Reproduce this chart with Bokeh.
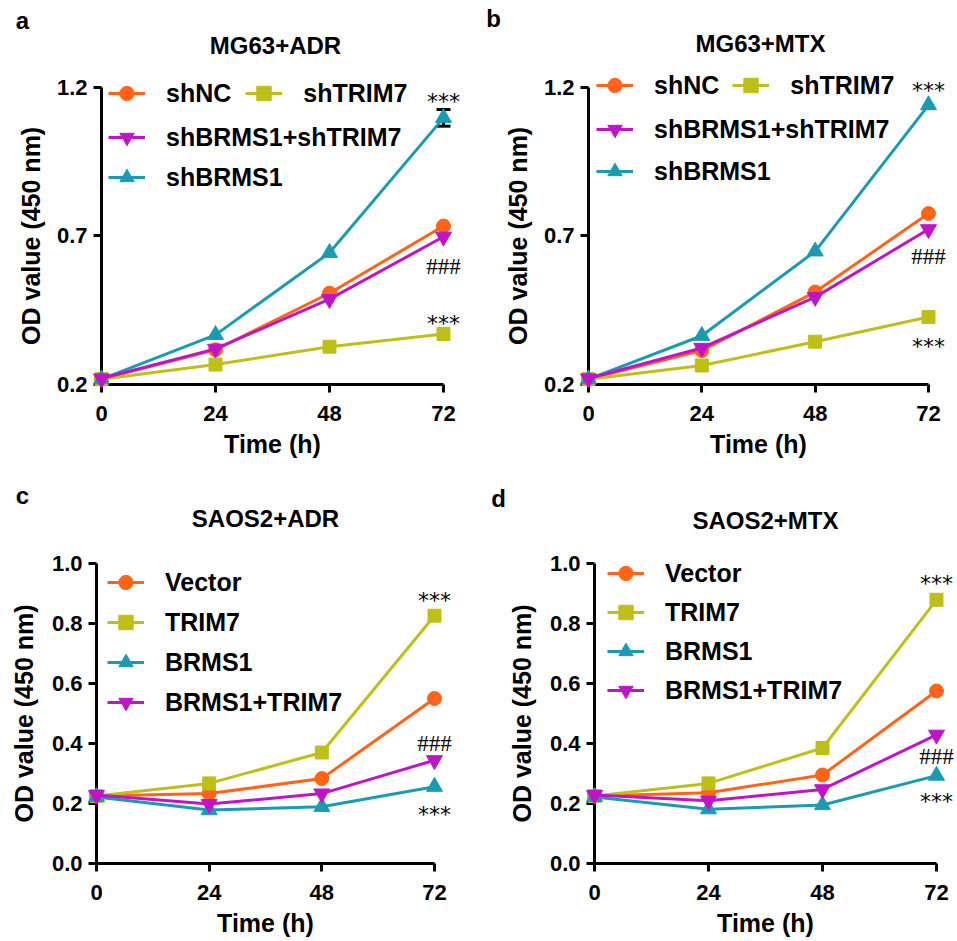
import math
from bokeh.plotting import figure
from bokeh.models import Range1d, FixedTicker, NumeralTickFormatter, Legend, LegendItem
from bokeh.layouts import column, row
from bokeh.core.properties import value
from bokeh.embed import file_html
from bokeh.resources import INLINE

FONT = "Liberation Sans"

time_h = [0, 24, 48, 72]
x_ticks = [0, 24, 48, 72]

# Panel a: MG63+ADR
a_shNC = [0.218, 0.317, 0.507, 0.733]
a_shTRIM7 = [0.218, 0.267, 0.327, 0.370]
a_shBRMS1_shTRIM7 = [0.220, 0.320, 0.487, 0.697]
a_shBRMS1 = [0.218, 0.367, 0.643, 1.097]
a_shBRMS1_err = [0.0, 0.0, 0.0, 0.028]

# Panel b: MG63+MTX
b_shNC = [0.218, 0.314, 0.511, 0.775]
b_shTRIM7 = [0.218, 0.264, 0.344, 0.427]
b_shBRMS1_shTRIM7 = [0.220, 0.323, 0.494, 0.722]
b_shBRMS1 = [0.218, 0.364, 0.648, 1.140]

# Panel c: SAOS2+ADR
c_vector = [0.225, 0.233, 0.283, 0.550]
c_trim7 = [0.225, 0.267, 0.370, 0.826]
c_brms1 = [0.222, 0.178, 0.189, 0.256]
c_brms1_trim7 = [0.228, 0.198, 0.233, 0.344]

# Panel d: SAOS2+MTX
d_vector = [0.225, 0.236, 0.295, 0.575]
d_trim7 = [0.225, 0.267, 0.385, 0.879]
d_brms1 = [0.222, 0.181, 0.195, 0.293]
d_brms1_trim7 = [0.228, 0.209, 0.247, 0.429]

y_ticks_mg = [0.2, 0.7, 1.2]
y_ticks_saos = [0.0, 0.2, 0.4, 0.6, 0.8, 1.0]

ORANGE = "#FF6419"
YELLOW = "#BFBF1A"
TEAL = "#1A9BB2"
MAGENTA = "#BE16C6"

STYLE = {
    "circle": dict(size=14),
    "square": dict(size=13),
    "triangle": dict(size=16),
    "inverted_triangle": dict(size=16),
}


def make_panel(W, H, borders, ybounds, ypad, yticks, series, legends, notes,
               letter, letter_off, title, title_off, ylab_off):
    left, right, top, bottom = borders
    y0, y1 = ybounds
    p = figure(width=W, height=H, x_range=Range1d(0, 72), y_range=Range1d(y0, y1 + ypad),
               output_backend="svg", toolbar_location=None,
               min_border_left=left, min_border_right=right,
               min_border_top=top, min_border_bottom=bottom)
    p.outline_line_color = None
    p.grid.visible = False
    for ax in (p.xaxis[0], p.yaxis[0]):
        ax.axis_line_width = 3
        ax.axis_line_color = "black"
        ax.major_tick_line_width = 3
        ax.major_tick_in = 0
        ax.major_tick_out = 8
        ax.minor_tick_line_color = None
        ax.major_label_text_font = FONT
        ax.major_label_text_font_style = "bold"
        ax.major_label_text_font_size = "22px"
        ax.major_label_text_color = "black"
        ax.axis_label_text_font = FONT
        ax.axis_label_text_font_style = "bold"
        ax.axis_label_text_font_size = "25px"
        ax.axis_label_text_color = "black"
    p.xaxis.ticker = FixedTicker(ticks=x_ticks)
    p.xaxis.axis_label = "Time (h)"
    p.xaxis.major_label_standoff = 13
    p.xaxis.axis_label_standoff = 6
    p.yaxis.ticker = FixedTicker(ticks=yticks)
    p.yaxis.bounds = (y0, y1)
    p.yaxis.formatter = NumeralTickFormatter(format="0.0")
    p.yaxis.major_label_standoff = 6

    # y-axis title, centred on the drawn axis (0..top tick)
    p.text(x=[0], y=[(y0 + y1) / 2], text=["OD value (450 nm)"], angle=math.pi / 2,
           x_offset=ylab_off, text_align="center", text_baseline="middle",
           text_font=value(FONT), text_font_style="bold", text_font_size="25px",
           text_color="black", level="overlay")

    items = {}
    for s in series:
        if "err" in s:
            xs = [t for t, e in zip(time_h, s["err"]) if e > 0]
            lo = [v - e for v, e in zip(s["y"], s["err"]) if e > 0]
            hi = [v + e for v, e in zip(s["y"], s["err"]) if e > 0]
            p.segment(x0=xs, y0=lo, x1=xs, y1=hi, line_color="black", line_width=3, level="overlay")
            p.scatter(x=xs, y=lo, marker="dash", size=14, line_color="black", line_width=3, level="overlay")
            p.scatter(x=xs, y=hi, marker="dash", size=14, line_color="black", line_width=3, level="overlay")
    for s in series:
        lr = p.line(time_h, s["y"], line_color=s["color"], line_width=3, level="overlay")
        sr = p.scatter(time_h, s["y"], marker=s["marker"], fill_color=s["color"], line_color=s["color"],
                       level="overlay", **STYLE[s["marker"]])
        items[s["name"]] = [lr, sr]

    for names, loc, orient, spacing in legends:
        lg = Legend(items=[LegendItem(label=n, renderers=items[n]) for n in names],
                    location=loc, orientation=orient, spacing=spacing,
                    padding=0, margin=0, border_line_alpha=0, background_fill_alpha=0,
                    glyph_width=37, glyph_height=36, label_standoff=21,
                    label_text_font=FONT, label_text_font_style="bold",
                    label_text_font_size="25px", label_text_color="black")
        p.add_layout(lg, "center")

    for txt, yv in notes:
        if txt == "***":
            p.text(x=[72], y=[yv], text=[txt], text_align="center", text_baseline="middle",
                   text_font=value("DejaVu Sans"), text_font_size="22px", text_color="black",
                   y_offset=5, level="overlay")
        else:
            p.text(x=[72], y=[yv], text=[txt], text_align="center", text_baseline="middle",
                   text_font=value("Liberation Serif"), text_font_size="23px", text_color="black",
                   level="overlay")

    # panel letter and title, anchored at the top of the y axis, offset in pixels
    p.text(x=[0], y=[y1], text=[letter], x_offset=letter_off[0], y_offset=letter_off[1],
           text_align="center", text_baseline="middle", text_font=value(FONT),
           text_font_style="bold", text_font_size="24px", text_color="black", level="overlay")
    p.text(x=[36], y=[y1], text=[title], x_offset=title_off[0], y_offset=title_off[1],
           text_align="center", text_baseline="middle", text_font=value(FONT),
           text_font_style="bold", text_font_size="24px", text_color="black", level="overlay")
    return p


W_L, W_R = 478, 479
H1, H2 = 460, 481

pa = make_panel(
    W_L, H1, (101, 35, 57, 72), (0.2, 1.2), 0.1, y_ticks_mg,
    [
        dict(name="shNC", y=a_shNC, color=ORANGE, marker="circle"),
        dict(name="shTRIM7", y=a_shTRIM7, color=YELLOW, marker="square"),
        dict(name="shBRMS1", y=a_shBRMS1, err=a_shBRMS1_err, color=TEAL, marker="triangle"),
        dict(name="shBRMS1+shTRIM7", y=a_shBRMS1_shTRIM7, color=MAGENTA, marker="inverted_triangle"),
    ],
    [(["shNC", "shTRIM7"], (7, 273), "horizontal", 14),
     (["shBRMS1+shTRIM7", "shBRMS1"], (7, 189), "vertical", 4)],
    [("***", 1.17), ("###", 0.597), ("***", 0.423)],
    "a", (-79, -67), "MG63+ADR", (3, -42), -71)

pb = make_panel(
    W_R, H1, (110, 29, 57, 74), (0.2, 1.2), 0.1, y_ticks_mg,
    [
        dict(name="shNC", y=b_shNC, color=ORANGE, marker="circle"),
        dict(name="shTRIM7", y=b_shTRIM7, color=YELLOW, marker="square"),
        dict(name="shBRMS1", y=b_shBRMS1, color=TEAL, marker="triangle"),
        dict(name="shBRMS1+shTRIM7", y=b_shBRMS1_shTRIM7, color=MAGENTA, marker="inverted_triangle"),
    ],
    [(["shNC", "shTRIM7"], (8, 281), "horizontal", 13),
     (["shBRMS1+shTRIM7", "shBRMS1"], (8, 195), "vertical", 6)],
    [("***", 1.207), ("###", 0.631), ("***", 0.344)],
    "b", (-95, -69), "MG63+MTX", (2, -44), -71)

pc = make_panel(
    W_L, H2, (96, 44, 73, 78), (0.0, 1.0), 0.1, y_ticks_saos,
    [
        dict(name="Vector", y=c_vector, color=ORANGE, marker="circle"),
        dict(name="TRIM7", y=c_trim7, color=YELLOW, marker="square"),
        dict(name="BRMS1", y=c_brms1, color=TEAL, marker="triangle"),
        dict(name="BRMS1+TRIM7", y=c_brms1_trim7, color=MAGENTA, marker="inverted_triangle"),
    ],
    [(["Vector", "TRIM7", "BRMS1", "BRMS1+TRIM7"], (11, 143), "vertical", 4)],
    [("***", 0.893), ("###", 0.40), ("***", 0.18)],
    "c", (-74, -68), "SAOS2+ADR", (0, -45), -73)

pd_ = make_panel(
    W_R, H2, (116, 21, 70, 78), (0.0, 1.0), 0.1, y_ticks_saos,
    [
        dict(name="Vector", y=d_vector, color=ORANGE, marker="circle"),
        dict(name="TRIM7", y=d_trim7, color=YELLOW, marker="square"),
        dict(name="BRMS1", y=d_brms1, color=TEAL, marker="triangle"),
        dict(name="BRMS1+TRIM7", y=d_brms1_trim7, color=MAGENTA, marker="inverted_triangle"),
    ],
    [(["Vector", "TRIM7", "BRMS1", "BRMS1+TRIM7"], (13, 155), "vertical", 3)],
    [("***", 0.951), ("###", 0.357), ("***", 0.222)],
    "d", (-96, -65), "SAOS2+MTX", (0, -43), -73)

layout = column(row(pa, pb), row(pc, pd_))
open("out.html", "w").write(file_html(layout, INLINE))
